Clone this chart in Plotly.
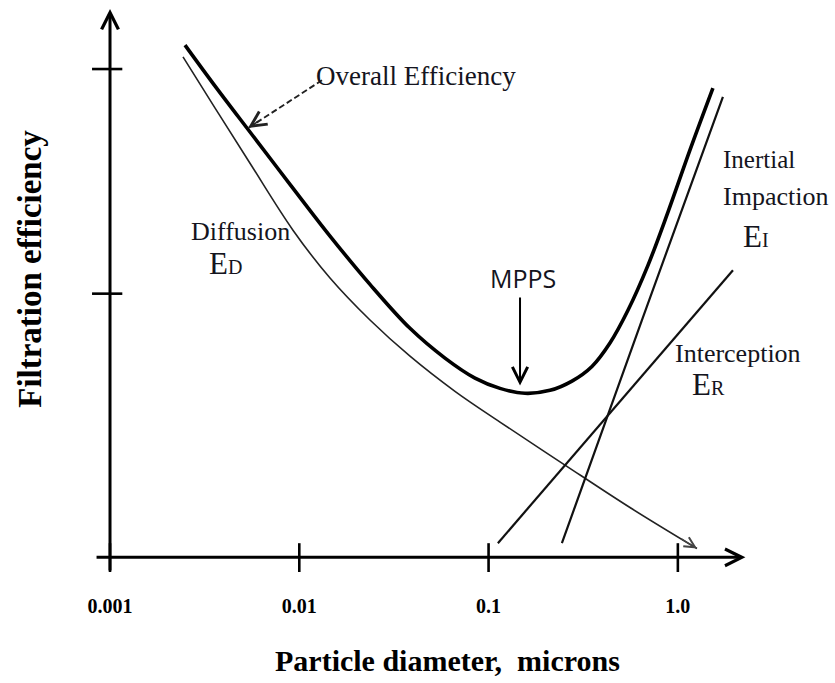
import numpy as np
import plotly.graph_objects as go

# ---- data (particle diameter in microns, relative efficiency) ----
DIAM_OVERALL = [0.00249, 0.00359, 0.00549, 0.00893, 0.01453, 0.02363, 0.03845, 0.05885, 0.08477,
                0.1149, 0.1557, 0.2111, 0.2758, 0.3517, 0.4378, 0.5450, 0.6950, 0.8866, 1.158, 1.532]
EFF_OVERALL = [1.049, 0.965, 0.871, 0.764, 0.658, 0.559, 0.469, 0.408, 0.367,
               0.346, 0.336, 0.342, 0.361, 0.391, 0.439, 0.506, 0.598, 0.707, 0.834, 0.961]

DIAM_DIFFUSION = [0.00243, 0.00359, 0.00549, 0.00926, 0.01453, 0.02363, 0.03845, 0.06645,
                  0.1149, 0.2533, 0.5585, 1.262]
EFF_DIFFUSION = [1.025, 0.920, 0.807, 0.670, 0.572, 0.486, 0.412, 0.340,
                 0.277, 0.189, 0.102, 0.018]

DIAM_IMPACTION = [0.244, 0.646, 1.730]
EFF_IMPACTION = [0.029, 0.486, 0.943]

DIAM_INTERCEPTION = [0.112, 0.468, 1.955]
EFF_INTERCEPTION = [0.029, 0.308, 0.588]

# pointer of the "Overall Efficiency" label (from label to curve)
POINTER_DIAM = [0.01318, 0.00536]
POINTER_EFF = [0.977, 0.879]

# most penetrating particle size marker
MPPS_DIAM = 0.1466
MPPS_EFF = [0.535, 0.352]

XTICK_VALS = [0.001, 0.01, 0.1, 1.0]
XTICK_TEXT = ["0.001", "0.01", "0.1", "1.0"]
YTICK_VALS = [0.54, 1.0]

SERIF = "Liberation Serif, Times New Roman, serif"
INK = "#141420"

fig = go.Figure()

# curves
fig.add_trace(go.Scatter(x=DIAM_DIFFUSION, y=EFF_DIFFUSION, mode="lines",
                         line=dict(color="#222222", width=1.6, shape="spline", smoothing=1.0),
                         hoverinfo="skip"))
fig.add_trace(go.Scatter(x=DIAM_IMPACTION, y=EFF_IMPACTION, mode="lines",
                         line=dict(color="#111111", width=2.2), hoverinfo="skip"))
fig.add_trace(go.Scatter(x=DIAM_INTERCEPTION, y=EFF_INTERCEPTION, mode="lines",
                         line=dict(color="#111111", width=2.2), hoverinfo="skip"))
fig.add_trace(go.Scatter(x=DIAM_OVERALL, y=EFF_OVERALL, mode="lines",
                         line=dict(color="#000000", width=3.6, shape="spline", smoothing=1.0),
                         hoverinfo="skip"))
# dashed pointer
fig.add_trace(go.Scatter(x=POINTER_DIAM, y=POINTER_EFF, mode="lines",
                         line=dict(color="#222222", width=1.9, dash="6px,3px"), hoverinfo="skip"))

# crossing tick marks, derived from the tick values
tx, ty = [], []
for v in XTICK_VALS:
    tx += [v, v, None]
    ty += [-0.031, 0.029, None]
fig.add_trace(go.Scatter(x=tx, y=ty, mode="lines", line=dict(color="black", width=2.6),
                         hoverinfo="skip"))
yx, yy = [], []
for v in YTICK_VALS:
    yx += [XTICK_VALS[0] * 10 ** -0.095, XTICK_VALS[0] * 10 ** 0.065, None]
    yy += [v, v, None]
fig.add_trace(go.Scatter(x=yx, y=yy, mode="lines", line=dict(color="black", width=2.6),
                         hoverinfo="skip"))

L = np.log10
ann = []
# axes with arrow heads
ann.append(dict(x=0.357, y=0, xref="x", yref="y", ax=-3.079, ay=0, axref="x", ayref="y",
                text="", showarrow=True, arrowhead=5, arrowwidth=3, arrowsize=1.1, arrowcolor="black"))
ann.append(dict(x=-3, y=1.123, xref="x", yref="y", ax=-3, ay=-0.03, axref="x", ayref="y",
                text="", showarrow=True, arrowhead=5, arrowwidth=3, arrowsize=1.1, arrowcolor="black"))
# pointer head for overall efficiency label
ann.append(dict(x=L(POINTER_DIAM[1]), y=POINTER_EFF[1], xref="x", yref="y", ax=12, ay=-8,
                text="", showarrow=True, arrowhead=5, arrowwidth=1.5, arrowsize=2, arrowcolor="#222222"))
# arrow head at end of diffusion curve
ann.append(dict(x=L(DIAM_DIFFUSION[-1]), y=EFF_DIFFUSION[-1], xref="x", yref="y", ax=-17, ay=-10.6,
                text="", showarrow=True, arrowhead=5, arrowwidth=1.3, arrowsize=1.6, arrowcolor="#444444"))
# MPPS arrow
ann.append(dict(x=L(MPPS_DIAM), y=MPPS_EFF[1], xref="x", yref="y",
                ax=L(MPPS_DIAM), ay=MPPS_EFF[0], axref="x", ayref="y",
                text="", showarrow=True, arrowhead=5, arrowwidth=2, arrowsize=1.5, arrowcolor="black"))

def label(text, x, y, size, xanchor="left", family=SERIF):
    ann.append(dict(x=x, y=y, xref="x", yref="y", text=text, showarrow=False,
                    xanchor=xanchor, yanchor="middle",
                    font=dict(family=family, size=size, color=INK)))

label("Overall Efficiency", -1.9223, 0.986, 27)
label("Diffusion", -2.308, 0.668, 26, xanchor="center")
label("E<span style='font-size:20px'>D</span>", -2.485, 0.602, 31)
label("MPPS", -0.8183, 0.572, 25, xanchor="center", family="Open Sans, sans-serif")
label("Inertial", 0.2277, 0.814, 25)
label("Impaction", 0.2277, 0.738, 26)
label("E<span style='font-size:20px'>I</span>", 0.3333, 0.658, 31)
label("Interception", -0.026, 0.418, 26)
label("E<span style='font-size:20px'>R</span>", 0.064, 0.355, 31)

# axis titles
ann.append(dict(x=0.545, y=-0.157, xref="paper", yref="paper", text="Particle diameter,  microns",
                showarrow=False, xanchor="center", yanchor="middle",
                font=dict(family=SERIF, size=30, color="black", weight="bold")))
ann.append(dict(x=-0.092, y=0.537, xref="paper", yref="paper", text="Filtration efficiency",
                showarrow=False, xanchor="center", yanchor="middle", textangle=-90,
                font=dict(family=SERIF, size=33, color="black", weight="bold")))

fig.update_layout(
    width=835, height=683,
    margin=dict(l=90, r=89, t=8, b=111),
    paper_bgcolor="white", plot_bgcolor="white",
    showlegend=False,
    annotations=ann,
    xaxis=dict(type="log", range=[-3.1057, 0.36], tickvals=XTICK_VALS, ticktext=XTICK_TEXT,
               ticks="outside", ticklen=16, tickcolor="rgba(0,0,0,0)",
               tickfont=dict(family=SERIF, size=20, color="black", weight="bold"),
               showgrid=False, zeroline=False, showline=False),
    yaxis=dict(range=[-0.03, 1.125], showticklabels=False, ticks="",
               showgrid=False, zeroline=False, showline=False),
)

fig.write_html("out.html")
